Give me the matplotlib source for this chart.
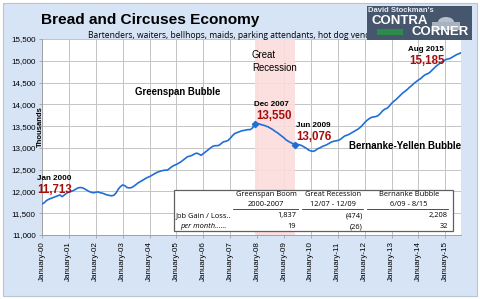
import numpy as np
import matplotlib.pyplot as plt
from matplotlib.patches import Rectangle, Wedge

# SECTION Data

# leisure & hospitality payrolls, thousands, monthly Jan 2000 .. Aug 2015
jobs_2000 = [11713, 11740, 11790, 11820, 11840, 11860, 11880, 11900, 11920, 11880, 11920, 11960]
jobs_2001 = [11990, 12000, 12020, 12050, 12080, 12090, 12085, 12060, 12030, 12000, 11980, 11970]
jobs_2002 = [11980, 11990, 11970, 11960, 11940, 11920, 11910, 11900, 11910, 11960, 12050, 12110]
jobs_2003 = [12150, 12130, 12090, 12080, 12090, 12120, 12160, 12200, 12230, 12260, 12290, 12320]
jobs_2004 = [12340, 12370, 12400, 12430, 12450, 12470, 12480, 12490, 12490, 12530, 12570, 12600]
jobs_2005 = [12620, 12650, 12680, 12720, 12760, 12800, 12810, 12830, 12860, 12880, 12860, 12830]
jobs_2006 = [12870, 12910, 12950, 12990, 13030, 13050, 13050, 13060, 13100, 13140, 13150, 13170]
jobs_2007 = [13220, 13280, 13330, 13350, 13370, 13390, 13400, 13410, 13420, 13420, 13460, 13550]
jobs_2008 = [13560, 13550, 13530, 13520, 13500, 13480, 13450, 13420, 13380, 13350, 13310, 13270]
jobs_2009 = [13230, 13180, 13150, 13120, 13100, 13076, 13080, 13070, 13050, 13020, 12990, 12950]
jobs_2010 = [12930, 12920, 12940, 12980, 13000, 13030, 13050, 13070, 13100, 13130, 13150, 13160]
jobs_2011 = [13170, 13190, 13230, 13270, 13290, 13310, 13340, 13370, 13400, 13430, 13470, 13520]
jobs_2012 = [13580, 13630, 13670, 13700, 13710, 13720, 13740, 13790, 13850, 13890, 13910, 13960]
jobs_2013 = [14020, 14070, 14110, 14160, 14210, 14260, 14300, 14340, 14390, 14430, 14480, 14520]
jobs_2014 = [14560, 14590, 14640, 14680, 14700, 14730, 14780, 14830, 14880, 14920, 14960, 14990]
jobs_2015 = [15020, 15040, 15050, 15080, 15110, 15140, 15160, 15185]

jobs = (jobs_2000 + jobs_2001 + jobs_2002 + jobs_2003 + jobs_2004 + jobs_2005 +
        jobs_2006 + jobs_2007 + jobs_2008 + jobs_2009 + jobs_2010 + jobs_2011 +
        jobs_2012 + jobs_2013 + jobs_2014 + jobs_2015)

years = list(range(2000, 2016))
xtick_labels = ["January-%02d" % (y % 100) for y in years]
yticks = [11000, 11500, 12000, 12500, 13000, 13500, 14000, 14500, 15000, 15500]

# (month index, label, value)
callouts = [(0, "Jan 2000", "11,713"), (95, "Dec 2007", "13,550"),
            (113, "Jun 2009", "13,076"), (187, "Aug 2015", "15,185")]
recession = (95, 113)

table_heads = [("Greenspan Boom", "2000-2007"), ("Great Recession", "12/07 - 12/09"),
               ("Bernanke Bubble", "6/09 - 8/15")]
table_gain = ["1,837", "(474)", "2,208"]
table_month = ["19", "(26)", "32"]

# SECTION Plot

W, H = 480, 299
bg = "#d6e4f6"
blue = "#1f6fd6"
red = "#a50d0d"

fig = plt.figure(figsize=(4.8, 2.99), dpi=100)
fig.patch.set_facecolor("white")
fig.patches.append(Rectangle((3 / W, 3 / H), 474 / W, 293 / H, transform=fig.transFigure,
                             facecolor=bg, edgecolor="#b8c4d0", lw=0.8, zorder=-5))

ax = fig.add_axes([42 / W, 1 - 235 / H, 419 / W, 196 / H])
ax.set_facecolor("white")
x = np.arange(len(jobs))
ax.axvspan(recession[0], recession[1], color="#fcdcdc", alpha=0.9, lw=0, zorder=1)
ax.plot(x, jobs, color=blue, lw=1.2, zorder=3)
ax.plot([recession[0], recession[1]], [jobs[recession[0]], jobs[recession[1]]],
        ls="none", marker="D", ms=3.2, color=blue, zorder=4)

ax.set_xlim(0, 187)
ax.set_ylim(11000, 15500)
ax.set_xticks([12 * i for i in range(len(years))])
ax.set_xticklabels(xtick_labels, rotation=90, fontsize=5.8, family="Liberation Sans")
ax.set_yticks(yticks)
ax.set_yticklabels(["{:,}".format(v) for v in yticks], fontsize=5.8, family="Liberation Sans")
ax.grid(True, color="#c4c4c4", lw=0.7, zorder=0)
ax.set_axisbelow(True)
for s in ["top", "right"]:
    ax.spines[s].set_visible(False)
for s in ["left", "bottom"]:
    ax.spines[s].set_color("#a0a0a0")
    ax.spines[s].set_linewidth(0.7)
ax.tick_params(axis="both", length=2.5, width=0.6, color="#a0a0a0", pad=2)

# callouts: (dx label, dy label, dx value, dy value) in data units
bold = dict(family="Liberation Sans", weight="bold")
offsets = [(-2.2, 575, -1.9, 320), (-0.3, 436, 0.4, 184),
           (0.3, 427, 0.6, 175), (-23.7, 85, -23.0, -190)]
for (m, lab, val), (dx1, dy1, dx2, dy2) in zip(callouts, offsets):
    ax.text(m + dx1, jobs[m] + dy1, lab, fontsize=5.8, color="black", va="center",
            clip_on=False, **bold)
    ax.text(m + dx2, jobs[m] + dy2, val, fontsize=8.3, color=red, va="center",
            clip_on=False, **bold)

ax.text(41.5, 14283, "Greenspan Bubble", fontsize=6.9, va="center", **bold)
ax.text(93.7, 14983, "Great\nRecession", fontsize=6.9, family="Liberation Sans",
        linespacing=1.3, va="center")
ax.text(137, 13043, "Bernanke-Yellen Bubble", fontsize=7.0, va="center", **bold)

# summary table
tb = [174 / W, 1 - 231 / H, 279 / W, 41 / H]
fig.patches.append(Rectangle((tb[0], tb[1]), tb[2], tb[3], transform=fig.transFigure,
                             facecolor="white", edgecolor="#606060", lw=0.9, zorder=5))
tfont = dict(family="Open Sans", fontsize=5.4, zorder=6)
head_x = [266, 333, 409]
right_x = [296, 363, 448]
line_x = [(233, 298), (302, 363), (367, 448)]
for i in range(3):
    fig.text(head_x[i] / W, 1 - 195 / H, table_heads[i][0], ha="center", va="center", **tfont)
    fig.text(head_x[i] / W, 1 - 204.5 / H, table_heads[i][1], ha="center", va="center", **tfont)
    fig.lines.append(plt.Line2D([line_x[i][0] / W, line_x[i][1] / W], [1 - 209 / H, 1 - 209 / H],
                                transform=fig.transFigure, color="#303030", lw=0.6, zorder=6))
    fig.text(right_x[i] / W, 1 - 216 / H, table_gain[i], ha="right", va="center", **tfont)
    fig.text(right_x[i] / W, 1 - 227 / H, table_month[i], ha="right", va="center", **tfont)
fig.text(176 / W, 1 - 216 / H, "Job Gain / Loss..", ha="left", va="center", **tfont)
fig.text(180 / W, 1 - 227 / H, "per month......", ha="left", va="center", style="italic", **tfont)

# titles
fig.text(41 / W, 1 - 20 / H, "Bread and Circuses Economy", fontsize=11.1, ha="left",
         va="center", **bold)
fig.text(88 / W, 1 - 35 / H,
         "Bartenders, waiters, bellhops, maids, parking attendants, hot dog vendors",
         fontsize=6.15, family="Open Sans", ha="left", va="center")
fig.text(40 / W, 1 - 127 / H, "Thousands", rotation=90, fontsize=5.5, ha="center",
         va="center", **bold)

# logo
fig.patches.append(Rectangle((367 / W, 1 - 40 / H), 105 / W, 34 / H, transform=fig.transFigure,
                             facecolor="#46566c", edgecolor="none", zorder=7))
fig.patches.append(Wedge((446 / W, 1 - 22 / H), 8 / W, 0, 180, transform=fig.transFigure,
                         facecolor="#b8c0ca", edgecolor="none", zorder=7))
fig.patches.append(Rectangle((432 / W, 1 - 30 / H), 28 / W, 8 / H, transform=fig.transFigure,
                             facecolor="#a8b2be", edgecolor="none", zorder=7))
fig.text(368 / W, 1 - 10.5 / H, "David Stockman's", fontsize=5.5, color="#e8e8f0",
         va="center", zorder=8, **bold)
fig.text(372 / W, 1 - 21 / H, "CONTRA", fontsize=9.5, color="white", va="center", zorder=8, **bold)
fig.patches.append(Rectangle((377 / W, 1 - 35 / H), 26 / W, 6 / H, transform=fig.transFigure,
                             facecolor="#2e8a4a", edgecolor="none", zorder=8))
fig.text(411 / W, 1 - 32 / H, "CORNER", fontsize=9.5, color="white", va="center", zorder=8, **bold)

fig.savefig("out.png", dpi=100, facecolor=fig.get_facecolor())
